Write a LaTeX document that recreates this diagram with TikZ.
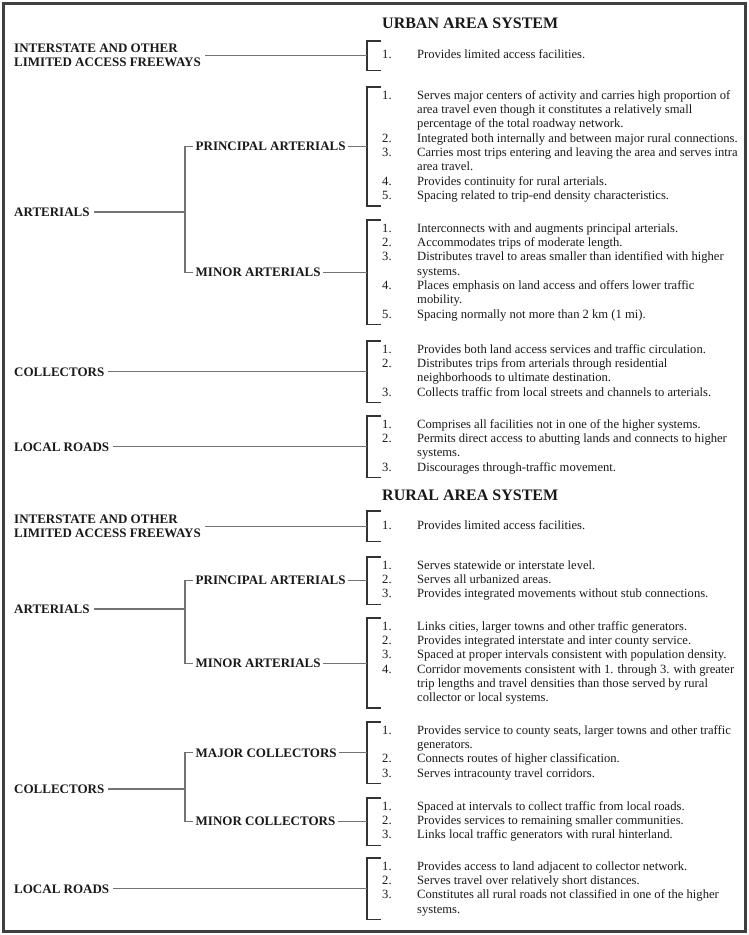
\documentclass[tikz,border=0pt]{standalone}
\usepackage{fontspec}
\setmainfont{Liberation Serif}
\usepackage{tikz}
\newcommand{\bodyfont}{\fontsize{12.6}{14.3}\selectfont}
\newcommand{\labelfont}{\fontsize{13}{14}\selectfont\bfseries}
\newcommand{\titlefont}{\fontsize{16}{18}\selectfont\bfseries}
\newcommand{\itemlist}[1]{\begin{tabular}{@{}p{35pt}@{}l@{}}#1\end{tabular}}

\begin{document}
\begin{tikzpicture}[x=1pt,y=-1pt,
  items/.style={anchor=north west,inner xsep=0pt,inner ysep=2pt,font=\bodyfont,text=black!90},
  lbl/.style={anchor=west,inner xsep=4pt,inner ysep=1pt,font=\labelfont,align=left,text=black!90},
  sublbl/.style={anchor=west,inner xsep=2.5pt,inner ysep=1pt,font=\labelfont,text=black!90},
  ttl/.style={anchor=west,inner sep=0pt,font=\titlefont,text=black!90},
  brkt/.style={line width=1.6pt,black!80},
  conn/.style={line width=1.2pt,black!55},
  frame/.style={line width=2.5pt,black!75}]
\useasboundingbox (0,0) rectangle (749,935);
\draw[frame] (3.5,3.5) rectangle (745.5,931.5);
\coordinate (mainx) at (10,0);
\coordinate (subx) at (193,0);
\coordinate (br) at (185,0);
\node[ttl] (uT) at (382,23) {URBAN AREA SYSTEM};
\node[items,minimum height=29pt] (uIl) at (382,41) {\itemlist{1. & Provides limited access facilities.}};
\node[items] (uPl) at (382,87) {\itemlist{1. & Serves major centers of activity and carries high proportion of\\ & area travel even though it constitutes a relatively small\\ & percentage of the total roadway network.\\ 2. & Integrated both internally and between major rural connections.\\ 3. & Carries most trips entering and leaving the area and serves intra\\ & area travel.\\ 4. & Provides continuity for rural arterials.\\ 5. & Spacing related to trip-end density characteristics.}};
\node[items] (uMl) at (382,220) {\itemlist{1. & Interconnects with and augments principal arterials.\\ 2. & Accommodates trips of moderate length.\\ 3. & Distributes travel to areas smaller than identified with higher\\ & systems.\\ 4. & Places emphasis on land access and offers lower traffic\\ & mobility.\\ 5. & Spacing normally not more than 2 km (1 mi).}};
\node[items] (uCl) at (382,341) {\itemlist{1. & Provides both land access services and traffic circulation.\\ 2. & Distributes trips from arterials through residential\\ & neighborhoods to ultimate destination.\\ 3. & Collects traffic from local streets and channels to arterials.}};
\node[items] (uLl) at (382,416) {\itemlist{1. & Comprises all facilities not in one of the higher systems.\\ 2. & Permits direct access to abutting lands and connects to higher\\ & systems.\\ 3. & Discourages through-traffic movement.}};
\node[ttl] (rT) at (382,495) {RURAL AREA SYSTEM};
\node[items,minimum height=30pt] (rIl) at (382,511) {\itemlist{1. & Provides limited access facilities.}};
\node[items] (rPl) at (382,557) {\itemlist{1. & Serves statewide or interstate level.\\ 2. & Serves all urbanized areas.\\ 3. & Provides integrated movements without stub connections.}};
\node[items] (rMl) at (382,618) {\itemlist{1. & Links cities, larger towns and other traffic generators.\\ 2. & Provides integrated interstate and inter county service.\\ 3. & Spaced at proper intervals consistent with population density.\\ 4. & Corridor movements consistent with 1. through 3. with greater\\ & trip lengths and travel densities than those served by rural\\ & collector or local systems.}};
\node[items] (rJl) at (382,722) {\itemlist{1. & Provides service to county seats, larger towns and other traffic\\ & generators.\\ 2. & Connects routes of higher classification.\\ 3. & Serves intracounty travel corridors.}};
\node[items] (rNl) at (382,798) {\itemlist{1. & Spaced at intervals to collect traffic from local roads.\\ 2. & Provides services to remaining smaller communities.\\ 3. & Links local traffic generators with rural hinterland.}};
\node[items] (rLl) at (382,858) {\itemlist{1. & Provides access to land adjacent to collector network.\\ 2. & Serves travel over relatively short distances.\\ 3. & Constitutes all rural roads not classified in one of the higher\\ & systems.}};
\draw[brkt] ([xshift=-1pt]uIl.north west) -- ++(-14,0) |- ([xshift=-1pt]uIl.south west);
\draw[brkt] ([xshift=-1pt]uPl.north west) -- ++(-14,0) |- ([xshift=-1pt]uPl.south west);
\draw[brkt] ([xshift=-1pt]uMl.north west) -- ++(-14,0) |- ([xshift=-1pt]uMl.south west);
\draw[brkt] ([xshift=-1pt]uCl.north west) -- ++(-14,0) |- ([xshift=-1pt]uCl.south west);
\draw[brkt] ([xshift=-1pt]uLl.north west) -- ++(-14,0) |- ([xshift=-1pt]uLl.south west);
\draw[brkt] ([xshift=-1pt]rIl.north west) -- ++(-14,0) |- ([xshift=-1pt]rIl.south west);
\draw[brkt] ([xshift=-1pt]rPl.north west) -- ++(-14,0) |- ([xshift=-1pt]rPl.south west);
\draw[brkt] ([xshift=-1pt]rMl.north west) -- ++(-14,0) |- ([xshift=-1pt]rMl.south west);
\draw[brkt] ([xshift=-1pt]rJl.north west) -- ++(-14,0) |- ([xshift=-1pt]rJl.south west);
\draw[brkt] ([xshift=-1pt]rNl.north west) -- ++(-14,0) |- ([xshift=-1pt]rNl.south west);
\draw[brkt] ([xshift=-1pt]rLl.north west) -- ++(-14,0) |- ([xshift=-1pt]rLl.south west);
\node[lbl] (uI) at (uIl.west -| mainx) {INTERSTATE AND OTHER\\LIMITED ACCESS FREEWAYS};
\node[lbl] (uA) at (10,212) {ARTERIALS};
\node[sublbl] (uPA) at (uPl.west -| subx) {PRINCIPAL ARTERIALS};
\node[sublbl] (uMA) at (uMl.west -| subx) {MINOR ARTERIALS};
\node[lbl] (uC) at (uCl.west -| mainx) {COLLECTORS};
\node[lbl] (uL) at (uLl.west -| mainx) {LOCAL ROADS};
\node[lbl] (rI) at (rIl.west -| mainx) {INTERSTATE AND OTHER\\LIMITED ACCESS FREEWAYS};
\node[lbl] (rA) at (10,609) {ARTERIALS};
\node[sublbl] (rPA) at (rPl.west -| subx) {PRINCIPAL ARTERIALS};
\node[sublbl] (rMA) at (rMl.west -| subx) {MINOR ARTERIALS};
\node[lbl] (rC) at (10,789) {COLLECTORS};
\node[sublbl] (rJC) at (rJl.west -| subx) {MAJOR COLLECTORS};
\node[sublbl] (rNC) at (rNl.west -| subx) {MINOR COLLECTORS};
\node[lbl] (rL) at (rLl.west -| mainx) {LOCAL ROADS};
\draw[conn] (uI.east) -- ([xshift=-15pt]uIl.west);
\draw[conn] (uA.east) -- (uA.east -| br);
\draw[conn] (uPA.west) -| (uA.east -| br) |- (uMA.west);
\draw[conn] (uPA.east) -- ([xshift=-15pt]uPl.west);
\draw[conn] (uMA.east) -- ([xshift=-15pt]uMl.west);
\draw[conn] (uC.east) -- ([xshift=-15pt]uCl.west);
\draw[conn] (uL.east) -- ([xshift=-15pt]uLl.west);
\draw[conn] (rI.east) -- ([xshift=-15pt]rIl.west);
\draw[conn] (rA.east) -- (rA.east -| br);
\draw[conn] (rPA.west) -| (rA.east -| br) |- (rMA.west);
\draw[conn] (rPA.east) -- ([xshift=-15pt]rPl.west);
\draw[conn] (rMA.east) -- ([xshift=-15pt]rMl.west);
\draw[conn] (rC.east) -- (rC.east -| br);
\draw[conn] (rJC.west) -| (rC.east -| br) |- (rNC.west);
\draw[conn] (rJC.east) -- ([xshift=-15pt]rJl.west);
\draw[conn] (rNC.east) -- ([xshift=-15pt]rNl.west);
\draw[conn] (rL.east) -- ([xshift=-15pt]rLl.west);
\end{tikzpicture}
\end{document}
